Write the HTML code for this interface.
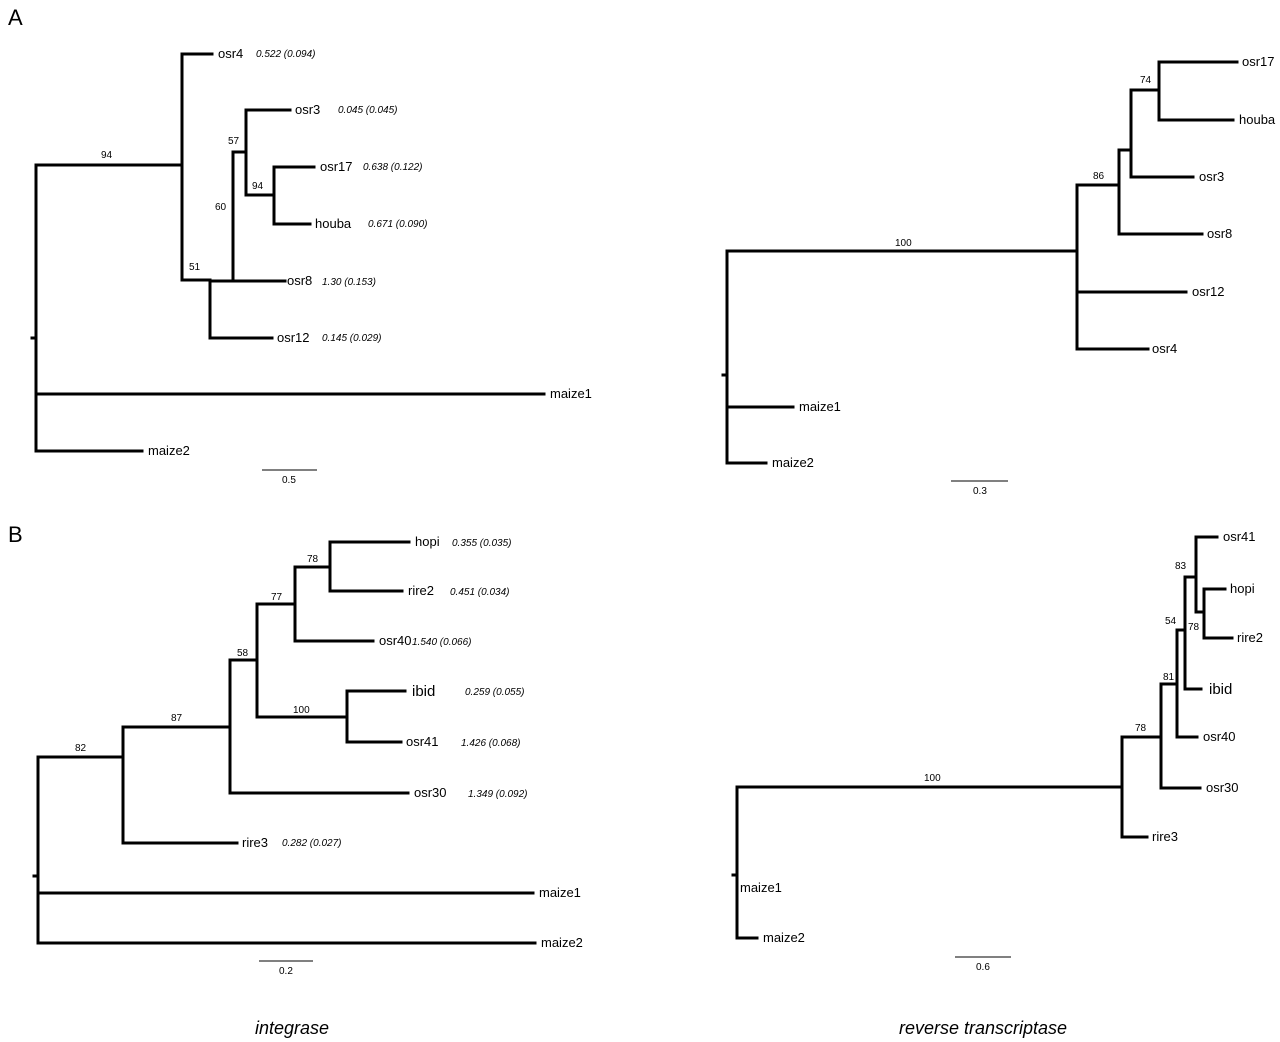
<!DOCTYPE html>
<html><head><meta charset="utf-8"><style>
html,body{margin:0;padding:0;background:#fff;}
svg{display:block;}
text{font-family:"Liberation Sans",Arial,sans-serif;fill:#000;}
.l{font-size:13px;}
.v{font-size:10px;font-style:italic;}
.b{font-size:10px;}
</style></head><body>
<svg width="1280" height="1042" viewBox="0 0 1280 1042" xmlns="http://www.w3.org/2000/svg">
<g stroke="#000" stroke-width="3" fill="none" stroke-linecap="square">
<!-- A left -->
<path d="M32 338H36M36 165V451M36 165H182M182 54V280M182 54H212M182 280H210M210 280V338M210 281H285M233 152V281M233 152H246M246 110V195M246 110H290M246 195H274M274 167V224M274 167H314M274 224H310M210 338H272M36 394H544M36 451H142"/>
<!-- A right -->
<path d="M723 375H727M727 251V463M727 251H1077M1077 185V349M1077 349H1148M1079 292H1186M1077 185H1119M1119 150V234M1119 234H1202M1119 150H1131M1131 90V177M1131 177H1193M1131 90H1159M1159 62V120M1159 62H1237M1159 120H1233M727 407H793M727 463H766"/>
<!-- B left -->
<path d="M34 876H38M38 757V943M38 757H123M123 727V843M123 843H237M123 727H230M230 660V793M230 793H408M230 660H257M257 604V717M257 717H347M347 691V742M347 691H405M347 742H401M257 604H295M295 567V641M295 641H373M295 567H330M330 542V591M330 542H409M330 591H402M38 893H533M38 943H535"/>
<!-- B right -->
<path d="M733 875H737M737 787V938M737 787H1122M1122 737V837M1122 837H1147M1122 737H1161M1161 684V788M1161 788H1200M1161 684H1177M1177 630V737M1177 737H1197M1177 630H1185M1185 577V689M1185 689H1201M1185 577H1196M1196 537V612M1196 537H1217M1196 612H1204M1204 589V638M1204 589H1225M1204 638H1232M737 938H757"/>
</g>
<g stroke="#000" stroke-width="1">
<path d="M262 470H317M951 481H1008M259 961H313M955 957H1011"/>
</g>
<text x="8" y="25" font-size="22">A</text>
<text x="8" y="542" font-size="22">B</text>
<!-- A left labels -->
<text class="l" x="218" y="58">osr4</text><text class="v" x="256" y="57">0.522 (0.094)</text>
<text class="l" x="295" y="114">osr3</text><text class="v" x="338" y="113">0.045 (0.045)</text>
<text class="l" x="320" y="171">osr17</text><text class="v" x="363" y="170">0.638 (0.122)</text>
<text class="l" x="315" y="228">houba</text><text class="v" x="368" y="227">0.671 (0.090)</text>
<text class="l" x="287" y="285">osr8</text><text class="v" x="322" y="285">1.30 (0.153)</text>
<text class="l" x="277" y="342">osr12</text><text class="v" x="322" y="341">0.145 (0.029)</text>
<text class="l" x="550" y="398">maize1</text>
<text class="l" x="148" y="455">maize2</text>
<text class="b" x="101" y="158">94</text>
<text class="b" x="228" y="144">57</text>
<text class="b" x="252" y="189">94</text>
<text class="b" x="215" y="210">60</text>
<text class="b" x="189" y="270">51</text>
<text class="b" x="282" y="483" font-size="9">0.5</text>
<!-- A right labels -->
<text class="l" x="1242" y="66">osr17</text>
<text class="l" x="1239" y="124">houba</text>
<text class="l" x="1199" y="181">osr3</text>
<text class="l" x="1207" y="238">osr8</text>
<text class="l" x="1192" y="296">osr12</text>
<text class="l" x="1152" y="353">osr4</text>
<text class="l" x="799" y="411">maize1</text>
<text class="l" x="772" y="467">maize2</text>
<text class="b" x="895" y="246">100</text>
<text class="b" x="1093" y="179">86</text>
<text class="b" x="1140" y="83">74</text>
<text class="b" x="973" y="494" font-size="9">0.3</text>
<!-- B left labels -->
<text class="l" x="415" y="546">hopi</text><text class="v" x="452" y="546">0.355 (0.035)</text>
<text class="l" x="408" y="595">rire2</text><text class="v" x="450" y="595">0.451 (0.034)</text>
<text class="l" x="379" y="645">osr40</text><text class="v" x="412" y="645">1.540 (0.066)</text>
<text x="412" y="696" font-size="15">ibid</text><text class="v" x="465" y="695" font-size="11">0.259 (0.055)</text>
<text class="l" x="406" y="746">osr41</text><text class="v" x="461" y="746">1.426 (0.068)</text>
<text class="l" x="414" y="797">osr30</text><text class="v" x="468" y="797">1.349 (0.092)</text>
<text class="l" x="242" y="847">rire3</text><text class="v" x="282" y="846">0.282 (0.027)</text>
<text class="l" x="539" y="897">maize1</text>
<text class="l" x="541" y="947">maize2</text>
<text class="b" x="75" y="751">82</text>
<text class="b" x="171" y="721">87</text>
<text class="b" x="237" y="656">58</text>
<text class="b" x="293" y="713">100</text>
<text class="b" x="271" y="600">77</text>
<text class="b" x="307" y="562">78</text>
<text class="b" x="279" y="974" font-size="9">0.2</text>
<!-- B right labels -->
<text class="l" x="1223" y="541">osr41</text>
<text class="l" x="1230" y="593">hopi</text>
<text class="l" x="1237" y="642">rire2</text>
<text x="1209" y="694" font-size="15">ibid</text>
<text class="l" x="1203" y="741">osr40</text>
<text class="l" x="1206" y="792">osr30</text>
<text class="l" x="1152" y="841">rire3</text>
<text class="l" x="740" y="892">maize1</text>
<text class="l" x="763" y="942">maize2</text>
<text class="b" x="924" y="781">100</text>
<text class="b" x="1135" y="731">78</text>
<text class="b" x="1163" y="680">81</text>
<text class="b" x="1165" y="624">54</text>
<text class="b" x="1175" y="569">83</text>
<text class="b" x="1188" y="630">78</text>
<text class="b" x="976" y="970" font-size="9">0.6</text>
<text x="292" y="1034" font-size="18" font-style="italic" text-anchor="middle">integrase</text>
<text x="983" y="1034" font-size="18" font-style="italic" text-anchor="middle">reverse transcriptase</text>
</svg>
</body></html>
